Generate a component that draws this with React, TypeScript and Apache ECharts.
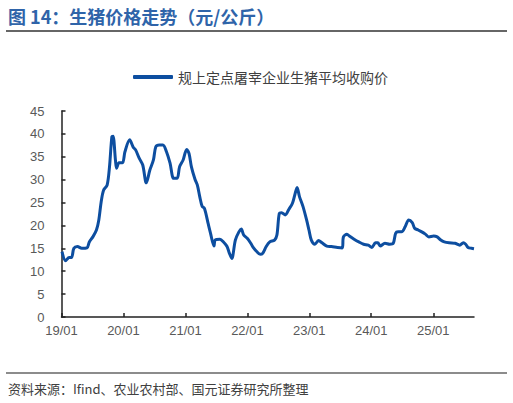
import { useEffect, useRef } from "react"
import * as echarts from "echarts"

// 规上定点屠宰企业生猪平均收购价（元/公斤）
const dates = [
  "2019-01-04", "2019-01-25", "2019-02-15", "2019-03-01", "2019-03-15", "2019-04-05", "2019-04-30",
  "2019-05-31", "2019-06-14", "2019-07-05", "2019-07-26", "2019-08-09", "2019-08-23", "2019-09-06",
  "2019-09-27", "2019-10-11", "2019-10-25", "2019-11-01", "2019-11-15", "2019-11-22", "2019-12-06",
  "2019-12-27", "2020-01-10", "2020-02-07", "2020-02-28", "2020-03-13", "2020-04-03", "2020-04-24",
  "2020-05-15", "2020-06-05", "2020-06-26", "2020-07-10", "2020-07-31", "2020-08-21", "2020-09-11",
  "2020-10-02", "2020-10-23", "2020-11-13", "2020-11-27", "2020-12-18", "2021-01-08", "2021-01-22",
  "2021-02-05", "2021-02-26", "2021-03-12", "2021-03-26", "2021-04-09", "2021-04-23", "2021-05-14",
  "2021-05-28", "2021-06-18", "2021-06-25", "2021-07-23", "2021-08-13", "2021-09-03", "2021-09-17",
  "2021-10-01", "2021-10-22", "2021-11-12", "2021-11-26", "2021-12-10", "2021-12-31", "2022-01-21",
  "2022-02-04", "2022-02-25", "2022-03-18", "2022-04-01", "2022-04-22", "2022-05-13", "2022-06-10",
  "2022-06-24", "2022-07-08", "2022-07-22", "2022-08-12", "2022-09-02", "2022-09-23", "2022-10-07",
  "2022-10-21", "2022-11-04", "2022-11-25", "2022-12-16", "2022-12-30", "2023-01-13", "2023-02-03",
  "2023-02-24", "2023-03-17", "2023-04-14", "2023-05-12", "2023-06-16", "2023-07-14", "2023-07-21",
  "2023-08-11", "2023-08-25", "2023-09-22", "2023-10-20", "2023-11-17", "2023-12-15", "2024-01-05",
  "2024-01-26", "2024-02-09", "2024-02-23", "2024-03-22", "2024-04-19", "2024-05-10", "2024-05-24",
  "2024-06-07", "2024-06-28", "2024-07-19", "2024-08-09", "2024-08-30", "2024-09-13", "2024-10-04",
  "2024-10-25", "2024-11-15", "2024-12-06", "2025-01-03", "2025-01-24", "2025-02-14", "2025-03-07",
  "2025-04-04", "2025-05-09", "2025-06-06", "2025-06-27", "2025-07-11", "2025-07-25", "2025-08-15",
  "2025-08-29",
]

const prices = [
  14.3, 12.3, 13.0, 13.0, 15.0, 15.4, 15.0,
  15.1, 16.4, 17.5, 19.0, 21.2, 25.2, 27.7,
  28.8, 32.8, 39.4, 39.5, 34.3, 32.5, 33.7,
  33.7, 36.1, 38.7, 37.1, 36.5, 34.7, 33.2,
  29.3, 32.1, 34.3, 37.2, 37.6, 37.6, 36.1,
  33.6, 30.3, 30.3, 32.8, 34.3, 36.6, 35.7,
  32.8, 30.1, 28.8, 26.3, 24.2, 23.7, 20.5,
  18.4, 15.5, 16.8, 17.0, 16.4, 15.4, 13.9,
  12.8, 16.8, 18.6, 19.2, 17.9, 17.2, 16.1,
  15.2, 14.3, 13.7, 13.9, 15.4, 16.4, 16.8,
  17.9, 22.6, 22.8, 22.3, 23.5, 24.8, 26.6,
  28.3, 26.3, 24.1, 21.2, 19.0, 16.8, 15.9,
  16.7, 16.2, 15.5, 15.4, 15.2, 15.1, 17.5,
  18.1, 17.7, 17.0, 16.4, 15.9, 15.7, 15.2,
  16.2, 16.2, 15.5, 16.1, 15.9, 16.1, 18.3,
  18.6, 18.6, 19.7, 21.2, 20.6, 19.4, 19.0,
  18.6, 18.1, 17.5, 17.7, 17.5, 16.8, 16.4,
  16.2, 16.1, 15.7, 16.2, 15.9, 15.2, 15.0,
  14.9,
]

const yearTicks = ["2019-01-01", "2020-01-01", "2021-01-01", "2022-01-01", "2023-01-01", "2024-01-01", "2025-01-01"]

const seriesName = "规上定点屠宰企业生猪平均收购价"
const titleText = "图 14：生猪价格走势（元/公斤）"
const sourceText = "资料来源：Ifind、农业农村部、国元证券研究所整理"

const FONT = "'Liberation Sans', Arial, 'Noto Sans CJK SC', sans-serif"
const CJK = "'Noto Sans CJK SC', 'Liberation Sans', sans-serif"

const toTime = (s: string) => {
  const [y, m, d] = s.split("-").map(Number)
  return Date.UTC(y, m - 1, d)
}

export default function App() {
  const chartRef = useRef<HTMLDivElement>(null)

  useEffect(() => {
    if (!chartRef.current) return
    const chart = echarts.init(chartRef.current, null, { renderer: "svg" })

    const tickValues = yearTicks.map(toTime)

    chart.setOption({
      animation: false,
      backgroundColor: "#ffffff",
      title: {
        text: titleText,
        left: 3,
        top: 2,
        textStyle: {
          fontFamily: CJK,
          fontSize: 18,
          fontWeight: "bold",
          color: "#2f64a9"
        }
      },
      legend: {
        left: 128,
        top: 65,
        icon: "roundRect",
        itemWidth: 40,
        itemHeight: 4,
        itemGap: 4,
        textStyle: {
          fontFamily: CJK,
          fontSize: 14,
          color: "#404040"
        },
        data: [seriesName]
      },
      grid: {
        left: 61.5,
        right: 39,
        top: 111,
        bottom: 86
      },
      xAxis: {
        type: "value",
        min: toTime("2019-01-01"),
        max: toTime("2025-08-29"),
        axisLine: { lineStyle: { color: "#222", width: 1.5 } },
        axisTick: {
          inside: true,
          length: 4,
          customValues: tickValues,
          lineStyle: { color: "#222", width: 1.5 }
        },
        axisLabel: {
          customValues: tickValues,
          margin: 7,
          fontFamily: FONT,
          fontSize: 13,
          color: "#595959",
          formatter: (v: number) => {
            const d = new Date(v)
            const yy = String(d.getUTCFullYear() % 100).padStart(2, "0")
            const mm = String(d.getUTCMonth() + 1).padStart(2, "0")
            return `${yy}/${mm}`
          }
        },
        splitLine: { show: false }
      },
      yAxis: {
        type: "value",
        min: 0,
        max: 45,
        interval: 5,
        axisLine: { show: true, lineStyle: { color: "#222", width: 1.5 } },
        axisTick: { show: true, inside: true, length: 4, lineStyle: { color: "#222", width: 1.5 } },
        axisLabel: {
          margin: 17,
          fontFamily: FONT,
          fontSize: 13,
          color: "#595959"
        },
        splitLine: { show: false }
      },
      series: [
        {
          name: seriesName,
          type: "line",
          symbol: "none",
          smooth: 0.3,
          data: dates.map((d, i) => [toTime(d), prices[i]]),
          lineStyle: { color: "#0d4ea0", width: 3 },
          itemStyle: { color: "#0d4ea0" }
        }
      ],
      graphic: [
        {
          type: "line",
          shape: { x1: 6, y1: 31, x2: 507, y2: 31 },
          style: { stroke: "#666666", lineWidth: 2 }
        },
        {
          type: "line",
          shape: { x1: 6, y1: 373, x2: 507, y2: 373 },
          style: { stroke: "#666666", lineWidth: 1.5 }
        },
        {
          type: "text",
          left: 8,
          top: 382,
          style: {
            text: sourceText,
            fontFamily: CJK,
            fontSize: 13,
            fill: "#404040"
          }
        }
      ]
    })

    return () => {
      chart.dispose()
    }
  }, [])

  return (
    <div
      ref={chartRef}
      style={{ position: "absolute", left: 0, top: 0, width: "513px", height: "403px" }}
    />
  )
}
